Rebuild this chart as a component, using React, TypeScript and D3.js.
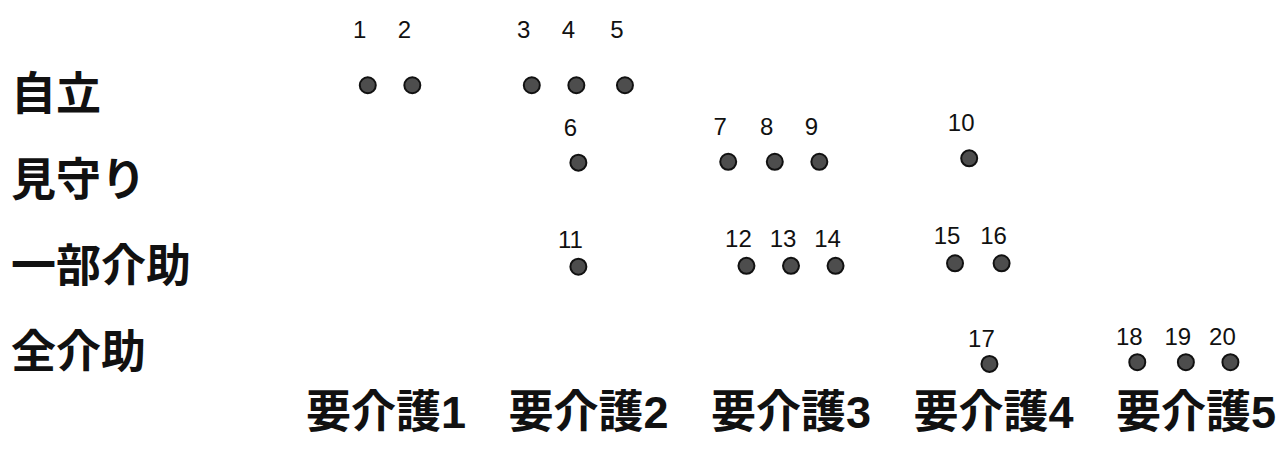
import React, { useRef, useEffect } from "react";
import { select, scaleLinear } from "d3";

// categories
const careLevels = ["要介護1", "要介護2", "要介護3", "要介護4", "要介護5"];
const adlLevels = ["自立", "見守り", "一部介助", "全介助"];

// case numbers with their position on the care axis (1-5) and the adl axis (1-4)
const caseIds = [1, 2, 3, 4, 5, 6, 7, 8, 9, 10, 11, 12, 13, 14, 15, 16, 17, 18, 19, 20];
const caseCare = [0.91, 1.13, 1.72, 1.94, 2.18, 1.95, 2.69, 2.92, 3.14, 3.88, 1.95, 2.78, 3.0, 3.22, 3.81, 4.04, 3.98, 4.71, 4.95, 5.17];
const caseAdl = [0.91, 0.91, 0.91, 0.91, 0.91, 1.81, 1.8, 1.8, 1.8, 1.76, 3.02, 3.01, 3.01, 3.01, 2.98, 2.98, 4.15, 4.13, 4.13, 4.13];

const W = 1285;
const H = 451;
const CJK = "'Liberation Sans', 'Noto Sans CJK JP', sans-serif";
// how far the case number sits above its dot, per adl row
const labelGap = [47, 27, 19, 17];

export default function App() {
  const svgRef = useRef<SVGSVGElement>(null);

  useEffect(() => {
    const svg = select(svgRef.current);
    svg.selectAll("*").remove();

    const xScale = scaleLinear().domain([1, 5]).range([386, 1196]);
    const yScale = scaleLinear().domain([1, 4]).range([93, 351]);

    // row labels
    svg
      .append("g")
      .selectAll("text")
      .data(adlLevels)
      .join("text")
      .attr("x", 11)
      .attr("y", (d, i) => yScale(i + 1) + 17)
      .attr("font-family", CJK)
      .attr("font-size", 45)
      .attr("font-weight", "bold")
      .attr("fill", "#111")
      .text(d => d);

    // column labels
    svg
      .append("g")
      .selectAll("text")
      .data(careLevels)
      .join("text")
      .attr("x", (d, i) => xScale(i + 1))
      .attr("y", 428)
      .attr("text-anchor", "middle")
      .attr("font-family", CJK)
      .attr("font-size", 45)
      .attr("font-weight", "bold")
      .attr("fill", "#111")
      .text(d => d);

    const cases = caseIds.map((id, i) => ({ id, care: caseCare[i], adl: caseAdl[i] }));

    //draw points
    svg
      .append("g")
      .selectAll("circle")
      .data(cases)
      .join("circle")
      .attr("cx", d => xScale(d.care))
      .attr("cy", d => yScale(d.adl))
      .attr("r", 8)
      .attr("fill", "#4d4d4d")
      .attr("stroke", "#111")
      .attr("stroke-width", 2);

    // case numbers
    svg
      .append("g")
      .selectAll("text")
      .data(cases)
      .join("text")
      .attr("x", d => xScale(d.care) - 8)
      .attr("y", d => yScale(d.adl) - labelGap[Math.round(d.adl) - 1])
      .attr("text-anchor", "middle")
      .attr("font-family", "'Liberation Sans', Arial, sans-serif")
      .attr("font-size", 24)
      .attr("fill", "#111")
      .text(d => d.id);
  }, []);

  return (
    <svg
      ref={svgRef}
      width={W}
      height={H}
      style={{ position: "absolute", left: 0, top: 0, background: "#fff" }}
    />
  );
}
